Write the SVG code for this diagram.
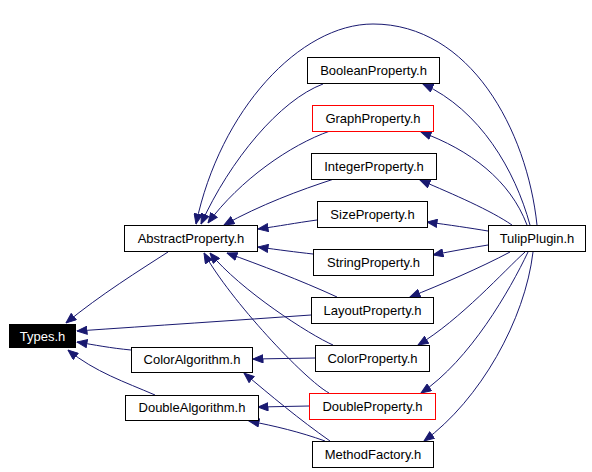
<svg xmlns="http://www.w3.org/2000/svg" width="592" height="472" viewBox="0 0 592 472">
<style>
.n rect{fill:#fff;stroke:#000;stroke-width:1}
.n text{font-family:"Liberation Sans",Arial,sans-serif;font-size:13px;text-anchor:middle;fill:#000}
.n.red rect{stroke:#ff0000}
.n.blk rect{fill:#000}
.n.blk text{fill:#fff}
#edges path{fill:none;stroke:#191970;stroke-width:1;marker-end:url(#ah)}
</style>
<defs>
<marker id="ah" markerUnits="userSpaceOnUse" markerWidth="11" markerHeight="9" viewBox="0 0 11 9" refX="10.5" refY="4.5" orient="auto">
<path d="M0.5,0.5 L10.5,4.5 L0.5,8.5 z" fill="#191970" stroke="#191970"/>
</marker>
</defs>
<rect width="592" height="472" fill="#fff"/>
<g id="edges">
<path d="M537,225 C527,130 470,24 373,24 C300,24 220,110 196,224"/>
<path d="M323,84 C280,100 230,160 201,224"/>
<path d="M330,131 C290,145 240,180 208,223"/>
<path d="M334,179 C300,190 260,205 224,225"/>
<path d="M317,220 C295,223 280,226 258,229"/>
<path d="M313,254 C295,252 280,250 258,247"/>
<path d="M337,297 C300,280 260,265 227,253"/>
<path d="M333,345 C310,335 240,290 210,253"/>
<path d="M329,393 C305,380 230,300 204,253"/>
<path d="M168,252 C140,270 100,295 66,323"/>
<path d="M311,315 C240,320 150,326 77,331"/>
<path d="M131,350 C110,348 95,345 77,342"/>
<path d="M155,395 C125,382 95,372 68,350"/>
<path d="M315,358 L253,359"/>
<path d="M309,406 L258,407"/>
<path d="M330,441 C300,420 270,395 244,373"/>
<path d="M325,441 C300,432 275,426 249,421"/>
<path d="M530,225 C515,170 480,110 423,84"/>
<path d="M527,225 C510,180 470,150 421,132"/>
<path d="M512,225 C490,210 455,195 420,180"/>
<path d="M488,231 C470,228 450,225 427,222"/>
<path d="M488,245 C470,248 452,251 433,255"/>
<path d="M510,252 C480,268 440,285 410,297"/>
<path d="M525,252 C505,270 460,320 418,345"/>
<path d="M528,252 C510,290 470,360 421,393"/>
<path d="M533,252 C525,320 480,400 424,441"/>
</g>
<g id="types" class="n blk"><rect x="9.5" y="324.5" width="66" height="23"/><text x="42.5" y="341">Types.h</text></g>
<g id="abstractproperty" class="n"><rect x="124.5" y="225.5" width="133" height="26"/><text x="191" y="243">AbstractProperty.h</text></g>
<g id="coloralgorithm" class="n"><rect x="131.5" y="347.5" width="121" height="25"/><text x="192" y="364">ColorAlgorithm.h</text></g>
<g id="doublealgorithm" class="n"><rect x="125.5" y="395.5" width="133" height="25"/><text x="192" y="412">DoubleAlgorithm.h</text></g>
<g id="booleanproperty" class="n"><rect x="307.5" y="57.5" width="132" height="26"/><text x="373.5" y="75">BooleanProperty.h</text></g>
<g id="graphproperty" class="n red"><rect x="312.5" y="105.5" width="121" height="26" stroke="#ff0000"/><text x="373" y="123">GraphProperty.h</text></g>
<g id="integerproperty" class="n"><rect x="311.5" y="153.5" width="125" height="26"/><text x="374" y="171">IntegerProperty.h</text></g>
<g id="sizeproperty" class="n"><rect x="317.5" y="201.5" width="110" height="26"/><text x="372.5" y="219">SizeProperty.h</text></g>
<g id="stringproperty" class="n"><rect x="313.5" y="249.5" width="120" height="26"/><text x="373.5" y="267">StringProperty.h</text></g>
<g id="layoutproperty" class="n"><rect x="311.5" y="297.5" width="122" height="26"/><text x="372.5" y="315">LayoutProperty.h</text></g>
<g id="colorproperty" class="n"><rect x="315.5" y="345.5" width="114" height="26"/><text x="372.5" y="363">ColorProperty.h</text></g>
<g id="doubleproperty" class="n red"><rect x="309.5" y="393.5" width="126" height="26" stroke="#ff0000"/><text x="372.5" y="411">DoubleProperty.h</text></g>
<g id="methodfactory" class="n"><rect x="312.5" y="441.5" width="121" height="26"/><text x="373" y="459">MethodFactory.h</text></g>
<g id="tulipplugin" class="n"><rect x="488.5" y="225.5" width="97" height="26"/><text x="537" y="243">TulipPlugin.h</text></g>
</svg>
